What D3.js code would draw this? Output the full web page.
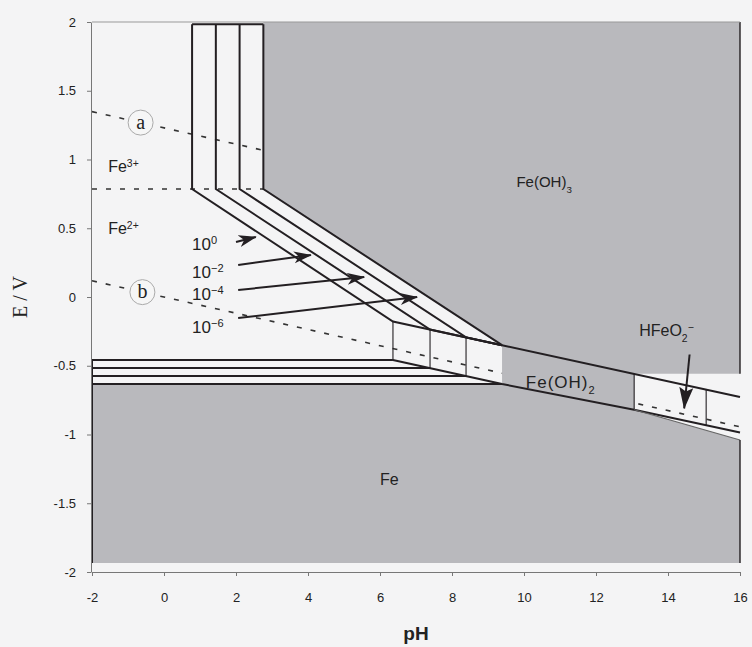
<!DOCTYPE html>
<html><head><meta charset="utf-8">
<script src="https://cdn.jsdelivr.net/npm/d3@7"></script>
<style>
html,body{margin:0;padding:0;background:#f4f4f5;}
svg{display:block;}
text{font-family:"Liberation Sans",Arial,sans-serif;fill:#222;}
</style></head>
<body>
<svg id="chart" width="752" height="647"></svg>
<script>
// ---------- data (pH / E in volts) ----------
const xTicks = [-2, 0, 2, 4, 6, 8, 10, 12, 14, 16];
const yTicks = [-2, -1.5, -1, -0.5, 0, 0.5, 1, 1.5, 2];
const concExp = ["0", "-2", "-4", "-6"];                 // 10^0 ... 10^-6
const concLabelE = [0.342, 0.138, -0.022, -0.262];        // label baselines
const fe3OHpH = [0.78, 1.44, 2.10, 2.76];                 // Fe3+/Fe(OH)3 verticals
const fe2OHpH = [6.36, 7.39, 8.39, 9.39];                 // Fe2+/Fe(OH)2 verticals
const feFe2E = [-0.458, -0.516, -0.575, -0.633];          // Fe2+/Fe horizontals
const fe3fe2E = 0.785;                                    // Fe3+/Fe2+
const capE = 1.983;                                       // top of corridor lines
const ohTopLine = [[6.36, -0.178], [16, -0.727]];         // Fe(OH)3/Fe(OH)2
const ohBotLine = [[6.36, -0.458], [9.39, -0.633], [13.06, -0.82], [16, -0.985]]; // Fe(OH)2/Fe
const hfeo2pH = [13.06, 15.06];                           // Fe(OH)2/HFeO2- verticals
const hfeo2FeLine = [[13.06, -0.82], [16, -1.04]];        // HFeO2-/Fe (lighter)
const hfeo2TopE = -0.559;                                 // Fe(OH)3/HFeO2-
const feBottomE = -1.935;
const lineA = [[-2, 1.348], [2.76, 1.067]];               // O2/H2O
const lineB = [[-2, 0.118], [16, -0.944]];                // H+/H2
const arrowFrom = [[2.0, 0.40], [2.06, 0.233], [2.06, 0.051], [2.06, -0.153]];
const arrowTo   = [[2.55, 0.436], [4.08, 0.305], [5.56, 0.145], [7.03, 0.0]];
const hfeArrow = [[14.6, -0.418], [14.45, -0.81]];

// ---------- scales ----------
const svg = d3.select("#chart");
const x = d3.scaleLinear().domain([-2, 16]).range([92, 740]);
const y = d3.scaleLinear().domain([-2, 2]).range([572, 22]);
const line = d3.line().x(d => x(d[0])).y(d => y(d[1]));
const GRAY = "#b9b9bd", DARK = "#231f22";

function interp(pts, p) {
  for (let i = 0; i < pts.length - 1; i++) {
    const a = pts[i], b = pts[i + 1];
    if (p >= a[0] - 1e-9 && p <= b[0] + 1e-9) return a[1] + (b[1] - a[1]) * (p - a[0]) / (b[0] - a[0]);
  }
  return null;
}
const topE = p => interp(ohTopLine, p);
const botE = p => interp(ohBotLine, p);

// diagonal Fe2+/Fe(OH)3 lines end at triple points on Fe(OH)3/Fe(OH)2 line
const corners = fe2OHpH.map(p => [p, topE(p)]);

// ---------- dashed water lines (under fills) ----------
const dash = svg.append("g").attr("fill", "none").attr("stroke", "#333")
  .attr("stroke-width", 1.6).attr("stroke-dasharray", "5,9");
dash.append("path").attr("d", line(lineA));
dash.append("path").attr("d", line(lineB));
dash.append("path").attr("d", line([[-2, fe3fe2E], [fe3OHpH[3], fe3fe2E]]));

// ---------- grey stability fields ----------
const fills = svg.append("g").attr("fill", GRAY);
// Fe(OH)3
fills.append("path").attr("d", line([
  [fe3OHpH[3], 2], [fe3OHpH[3], fe3fe2E], corners[3],
  [hfeo2pH[0], topE(hfeo2pH[0])], [hfeo2pH[0], hfeo2TopE], [16, hfeo2TopE], [16, 2]
]) + "Z");
// Fe(OH)2
fills.append("path").attr("d", line([
  corners[3], [hfeo2pH[0], topE(hfeo2pH[0])], [hfeo2pH[0], botE(hfeo2pH[0])], [fe2OHpH[3], botE(fe2OHpH[3])]
]) + "Z");
// Fe
fills.append("path").attr("d", line([
  [-2, feFe2E[3]], [fe2OHpH[3], feFe2E[3]], [hfeo2pH[0], botE(hfeo2pH[0])],
  hfeo2FeLine[1], [16, feBottomE], [-2, feBottomE]
]) + "Z");

// ---------- solid boundary lines ----------
const sol = svg.append("g").attr("fill", "none").attr("stroke", DARK).attr("stroke-width", 2);
fe3OHpH.forEach((p, i) => {
  sol.append("path").attr("d", line([[p, capE], [p, fe3fe2E], corners[i], corners[3]]));
});
sol.append("path").attr("d", line([[fe3OHpH[0], capE], [fe3OHpH[3], capE]]));
sol.append("path").attr("d", line([corners[3], ohTopLine[1]]));
feFe2E.forEach((e, i) => {
  sol.append("path").attr("d", line([[-2, e], [fe2OHpH[i], e]]));
});
sol.append("path").attr("d", line(ohBotLine));
// small verticals inside the Fe(OH)2 band
fe2OHpH.slice(0, 3).forEach((p, i) => {
  sol.append("path").attr("stroke-width", 1.1).attr("d", line([[p, topE(p)], [p, feFe2E[i]]]));
});
hfeo2pH.forEach(p => {
  sol.append("path").attr("stroke-width", 1.1).attr("d", line([[p, topE(p)], [p, botE(p)]]));
});
sol.append("path").attr("stroke", "#666").attr("stroke-width", 1.2).attr("d", line(hfeo2FeLine));
// frame borders of the fields
sol.append("path").attr("d", line([[-2, feFe2E[0]], [-2, feBottomE]]));
sol.append("path").attr("stroke-width", 1.4).attr("d", line([[16, 2], [16, hfeo2TopE]]));
sol.append("path").attr("stroke-width", 1.4).attr("d", line([hfeo2FeLine[1], [16, feBottomE]]));

// ---------- axes ----------
svg.append("path").attr("d", line([[-2, 2], [16, 2]])).attr("stroke", "#999").attr("stroke-width", 1).attr("fill", "none");
const ya = svg.append("g").attr("transform", "translate(91,0)")
  .call(d3.axisLeft(y).tickValues(yTicks).tickSize(4).tickPadding(11).tickSizeOuter(0)
    .tickFormat(d => String(d)));
const xa = svg.append("g").attr("transform", "translate(0,572)")
  .call(d3.axisBottom(x).tickValues(xTicks).tickSize(4).tickPadding(17).tickSizeOuter(0)
    .tickFormat(d => String(d)));
[ya, xa].forEach(g => {
  g.select(".domain").attr("stroke", "#777");
  g.selectAll(".tick line").attr("stroke", "#777");
  g.selectAll(".tick text").attr("font-size", 13).attr("fill", "#444")
    .style("font-family", "'Liberation Sans',Arial,sans-serif");
});

svg.append("text").attr("transform", "translate(27,297) rotate(-90)")
  .attr("text-anchor", "middle").attr("font-size", 20)
  .style("font-family", "'Liberation Serif','Times New Roman',serif").text("E / V");
svg.append("text").attr("x", 416).attr("y", 640).attr("text-anchor", "middle")
  .attr("font-size", 19).attr("font-weight", "bold").attr("fill", "#333").text("pH");

// ---------- circled water-line labels ----------
[["a", lineA, -0.65], ["b", lineB, -0.6]].forEach(([t, ln, p]) => {
  const cx = x(p), cy = y(interp(ln, p));
  svg.append("circle").attr("cx", cx).attr("cy", cy).attr("r", 12.5)
    .attr("fill", "#f6f6f6").attr("stroke", "#aaa").attr("stroke-width", 1);
  svg.append("text").attr("x", cx).attr("y", cy + 6).attr("text-anchor", "middle")
    .attr("font-size", 20).style("font-family", "'Liberation Serif',serif").text(t);
});

// ---------- species labels ----------
function label(px, pe, parts, size, anchor) {
  const t = svg.append("text").attr("x", x(px)).attr("y", y(pe)).attr("font-size", size)
    .attr("text-anchor", anchor || "start");
  parts.forEach(([s, kind]) => {
    const ts = t.append("tspan").text(s);
    if (kind === "sup") ts.attr("font-size", size * 0.65).attr("baseline-shift", "super");
    if (kind === "sub") ts.attr("font-size", size * 0.65).attr("baseline-shift", "sub");
  });
  return t;
}
label(-1.55, 0.909, [["Fe"], ["3+", "sup"]], 16);
label(-1.55, 0.458, [["Fe"], ["2+", "sup"]], 16);
label(13.2, -0.28, [["HFeO"], ["2", "sub"], ["−", "sup"]], 16);
label(11.33, 0.80, [["Fe(OH)"], ["3", "sub"]], 15, "end");
label(10.05, -0.665, [["Fe(OH)"], ["2", "sub"]], 17).attr("letter-spacing", 1);
label(6.0, -1.37, [["Fe"]], 16);

// concentration labels
concExp.forEach((e, i) => {
  label(0.78, concLabelE[i], [["10"], [e.replace("-", "−"), "sup"]], 17);
});

// ---------- arrows ----------
const defs = svg.append("defs");
defs.append("marker").attr("id", "head").attr("markerUnits", "userSpaceOnUse")
  .attr("viewBox", "0 -7 18 14").attr("refX", 17).attr("refY", 0)
  .attr("markerWidth", 18).attr("markerHeight", 14).attr("orient", "auto")
  .append("path").attr("d", "M0,-6 L18,0 L0,6 L5,0 Z").attr("fill", DARK);
defs.append("marker").attr("id", "headBig").attr("markerUnits", "userSpaceOnUse")
  .attr("viewBox", "0 -8 22 16").attr("refX", 21).attr("refY", 0)
  .attr("markerWidth", 22).attr("markerHeight", 16).attr("orient", "auto")
  .append("path").attr("d", "M0,-7 L22,0 L0,7 L4,0 Z").attr("fill", DARK);
arrowFrom.forEach((f, i) => {
  svg.append("path").attr("d", line([f, arrowTo[i]])).attr("stroke", DARK)
    .attr("stroke-width", 2).attr("fill", "none").attr("marker-end", "url(#head)");
});
svg.append("path").attr("d", line(hfeArrow)).attr("stroke", DARK)
  .attr("stroke-width", 2).attr("fill", "none").attr("marker-end", "url(#headBig)");
</script>
</body></html>
